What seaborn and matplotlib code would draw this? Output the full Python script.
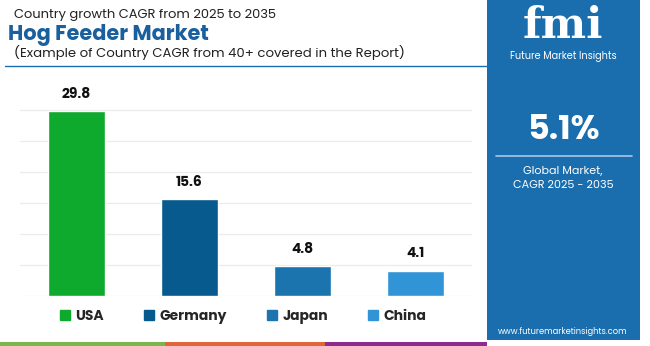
import matplotlib
matplotlib.use("Agg")
import matplotlib.pyplot as plt
import seaborn as sns
import pandas as pd
from matplotlib.patches import Rectangle, Patch
from matplotlib.lines import Line2D

countries = ["USA", "Germany", "Japan", "China"]
cagr = [29.8, 15.6, 4.8, 4.1]
colors = ["#0eaa2e", "#065a8e", "#1b74ae", "#3194d6"]
yticks = [0, 5, 10, 15, 20, 25, 30]

sns.set_theme(style="white")
plt.rcParams['font.family'] = ['Poppins', 'Open Sans', 'DejaVu Sans']

W, H = 650, 346
fig = plt.figure(figsize=(6.5, 3.46), dpi=100)
fig.patch.set_facecolor("white")

def fx(x):
    return x / W

def fy(y):
    return 1 - y / H

ymax = 32
ax = fig.add_axes([fx(20), fy(296), fx(452), ymax * 6.2 / H])
df = pd.DataFrame({"country": countries, "cagr": cagr})
sns.barplot(data=df, x="country", y="cagr", hue="country", palette=colors,
            width=0.5, dodge=False, legend=False, ax=ax, saturation=1)
ax.set_xlim(-0.5, 3.5)
ax.set_ylim(0, ymax)
ax.set_yticks(yticks)
ax.yaxis.grid(True, color="#ebebeb", linewidth=0.9)
ax.set_axisbelow(True)
for s in ax.spines.values():
    s.set_visible(False)
ax.set_xticks([])
ax.set_yticklabels([])
ax.tick_params(left=False, bottom=False)
ax.set_xlabel("")
ax.set_ylabel("")
for i, v in enumerate(cagr):
    ax.annotate(f"{v}", (i, v), xytext=(0, 7), textcoords="offset points",
                ha="center", va="bottom", fontsize=10, fontweight="bold", color="#111111")

handles = [Patch(facecolor=c, edgecolor=c, label=n) for c, n in zip(colors, countries)]
fig.legend(handles=handles, loc="center", bbox_to_anchor=(fx(243), fy(317)), ncol=4,
           frameon=False, prop={"weight": "bold", "size": 10}, handlelength=0.7,
           handleheight=0.7, handletextpad=0.4, columnspacing=2.9)

fig.text(fx(14), fy(15), "Country growth CAGR from 2025 to 2035", fontsize=9.4,
         color="#222222", va="center", ha="left")
fig.text(fx(8), fy(35), "Hog Feeder Market", fontsize=15, fontweight="bold",
         color="#1a5f9e", va="center", ha="left")
fig.text(fx(14), fy(53), "(Example of Country CAGR from 40+ covered in the Report)", fontsize=9.5,
         color="#222222", va="center", ha="left")
fig.add_artist(Line2D([fx(5), fx(487)], [fy(66), fy(66)], color="#1a6eae", linewidth=1.0))

fig.add_artist(Rectangle((fx(487), fy(340)), fx(153), 340 / H, facecolor="#1a6eae",
                         edgecolor="none", transform=fig.transFigure, zorder=0))
fig.text(fx(563), fy(26), "fmi", fontsize=31, fontweight="bold", color="white",
         ha="center", va="center", family="DejaVu Serif")
fig.text(fx(563), fy(56), "Future Market Insights", fontsize=7, color="white",
         ha="center", va="center")
fig.text(fx(563), fy(131), "5.1%", fontsize=24, fontweight="bold", color="white",
         ha="center", va="center")
fig.add_artist(Line2D([fx(496), fx(632)], [fy(156), fy(156)], color="#a9c9e6", linewidth=1.2))
fig.text(fx(563), fy(172), "Global Market,", fontsize=8, color="white", ha="center", va="center")
fig.text(fx(563), fy(186), "CAGR 2025 - 2035", fontsize=8, color="white", ha="center", va="center")
fig.text(fx(563), fy(332), "www.futuremarketinsights.com", fontsize=6, color="white",
         ha="center", va="center")

for x0, x1, c in [(0, 165, "#7ab648"), (165, 325, "#e0663a"), (325, 487, "#8e2b8e")]:
    fig.add_artist(Rectangle((fx(x0), 0), fx(x1 - x0), 4 / H, facecolor=c, edgecolor="none",
                             transform=fig.transFigure))

fig.savefig("out.png", dpi=100)
